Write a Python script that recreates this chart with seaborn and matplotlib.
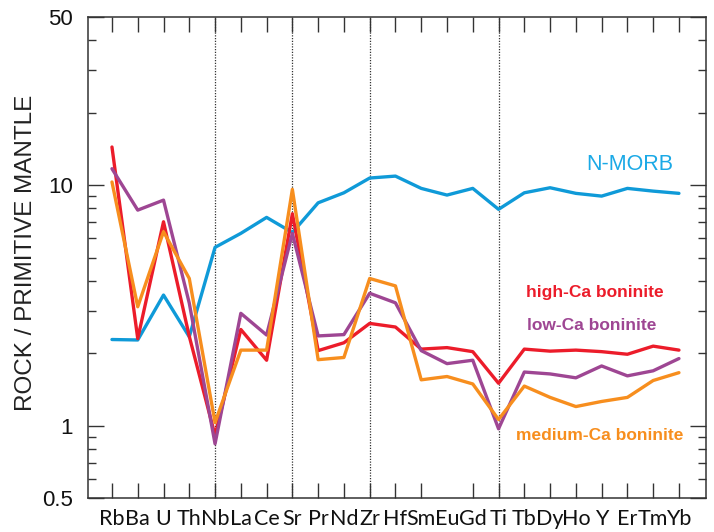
import numpy as np
import pandas as pd
import matplotlib
matplotlib.use("Agg")
import matplotlib.pyplot as plt
import seaborn as sns
from matplotlib.ticker import FixedLocator, NullFormatter

elements = ["Rb", "Ba", "U", "Th", "Nb", "La", "Ce", "Sr", "Pr", "Nd", "Zr", "Hf",
            "Sm", "Eu", "Gd", "Ti", "Tb", "Dy", "Ho", "Y", "Er", "Tm", "Yb"]

n_morb = [2.28, 2.27, 3.49, 2.34, 5.51, 6.30, 7.34, 6.35, 8.44, 9.29, 10.7, 10.9,
          9.69, 9.09, 9.69, 7.93, 9.29, 9.75, 9.24, 9.00, 9.69, 9.44, 9.24]
high_ca = [14.4, 2.30, 7.04, 2.35, 0.91, 2.51, 1.87, 7.6, 2.05, 2.21, 2.66, 2.57,
           2.08, 2.11, 2.03, 1.50, 2.08, 2.04, 2.06, 2.03, 1.98, 2.14, 2.06]
low_ca = [11.7, 7.87, 8.66, 3.23, 0.84, 2.93, 2.38, 6.3, 2.36, 2.39, 3.55, 3.24,
          2.05, 1.81, 1.87, 0.97, 1.67, 1.64, 1.58, 1.77, 1.61, 1.69, 1.90]
medium_ca = [10.3, 3.12, 6.4, 4.09, 1.03, 2.06, 2.06, 9.6, 1.88, 1.92, 4.09, 3.81,
             1.55, 1.60, 1.49, 1.06, 1.46, 1.31, 1.20, 1.26, 1.31, 1.54, 1.66]

series_names = ["N-MORB", "high-Ca boninite", "low-Ca boninite", "medium-Ca boninite"]
divider_elements = ["Nb", "Sr", "Zr", "Ti"]
y_tick_values = [0.5, 1, 10, 50]
y_tick_labels = ["0.5", "1", "10", "50"]

line_colors = {"N-MORB": "#0f9ad8", "high-Ca boninite": "#ec1c2a",
               "low-Ca boninite": "#9e4693", "medium-Ca boninite": "#f78e1e"}
text_colors = {"N-MORB": "#1aa9e6", "high-Ca boninite": "#ec1c2a",
               "low-Ca boninite": "#9e4693", "medium-Ca boninite": "#f78e1e"}

rows = []
for name, vals in zip(series_names, [n_morb, high_ca, low_ca, medium_ca]):
    for i, (el, v) in enumerate(zip(elements, vals)):
        rows.append({"pos": i, "element": el, "value": v, "series": name})
df = pd.DataFrame(rows)

sns.set_style("ticks")
plt.rcParams["font.family"] = ["Liberation Sans", "DejaVu Sans"]

fig = plt.figure(figsize=(7.14, 5.32), dpi=100)
ax = fig.add_axes([88 / 714, 1 - 498 / 532, 618 / 714, 481 / 532])

for xv in divider_elements:
    ax.axvline(elements.index(xv), color="#333333", lw=0.9, ls=(0, (1, 1.2)), zorder=1)

sns.lineplot(data=df, x="pos", y="value", hue="series", hue_order=series_names,
             palette=line_colors, sort=False, estimator=None, lw=2.4,
             legend=False, ax=ax, zorder=3)

ax.set_yscale("log")
ax.set_ylim(0.5, 50)
ax.set_xlim(-0.93, len(elements) - 1 + 1.05)

ax.set_xticks(range(len(elements)))
ax.set_xticklabels(elements, fontsize=15.5, family=["Lato", "Liberation Sans", "DejaVu Sans"])
ax.yaxis.set_major_locator(FixedLocator(y_tick_values))
ax.set_yticklabels(y_tick_labels, fontsize=16)
minor = [0.6, 0.7, 0.8, 0.9, 2, 3, 4, 5, 6, 7, 8, 9, 20, 30, 40]
ax.yaxis.set_minor_locator(FixedLocator(minor))
ax.yaxis.set_minor_formatter(NullFormatter())
ax.xaxis.set_minor_locator(FixedLocator([]))

ax.tick_params(axis="x", which="major", direction="in", top=True, bottom=True,
               length=10.5, width=1.0, color="#333333", pad=8, labelcolor="#111111")
ax.tick_params(axis="y", which="major", direction="in", left=True, right=True,
               length=11.5, width=1.0, color="#333333", pad=10.8, labelcolor="#111111")
ax.tick_params(axis="y", which="minor", direction="in", left=True, right=True,
               length=6, width=1.0, color="#333333")

# bottom tick at Eu is absent in the original
ax.xaxis.get_major_ticks()[elements.index("Eu")].tick1line.set_visible(False)

for s in ax.spines.values():
    s.set_color("#333333")
    s.set_linewidth(1.1)

ax.set_xlabel("")
ax.set_ylabel("ROCK / PRIMITIVE MANTLE", fontsize=17.5, color="#222222")
ax.yaxis.set_label_coords(-0.0825, 0.51)

ax.text(630 / 714, 1 - 165 / 532, "N-MORB", transform=fig.transFigure, ha="center",
        va="center", fontsize=15.5, color=text_colors["N-MORB"])
ax.text(594.5 / 714, 1 - 292 / 532, "high-Ca boninite", transform=fig.transFigure,
        ha="center", va="center", fontsize=12.5, fontweight="bold",
        color=text_colors["high-Ca boninite"])
ax.text(592 / 714, 1 - 326 / 532, "low-Ca boninite", transform=fig.transFigure,
        ha="center", va="center", fontsize=12.5, fontweight="bold",
        color=text_colors["low-Ca boninite"])
ax.text(600 / 714, 1 - 435 / 532, "medium-Ca boninite", transform=fig.transFigure,
        ha="center", va="center", fontsize=12.5, fontweight="bold",
        color=text_colors["medium-Ca boninite"])

fig.savefig("out.png", dpi=100)
